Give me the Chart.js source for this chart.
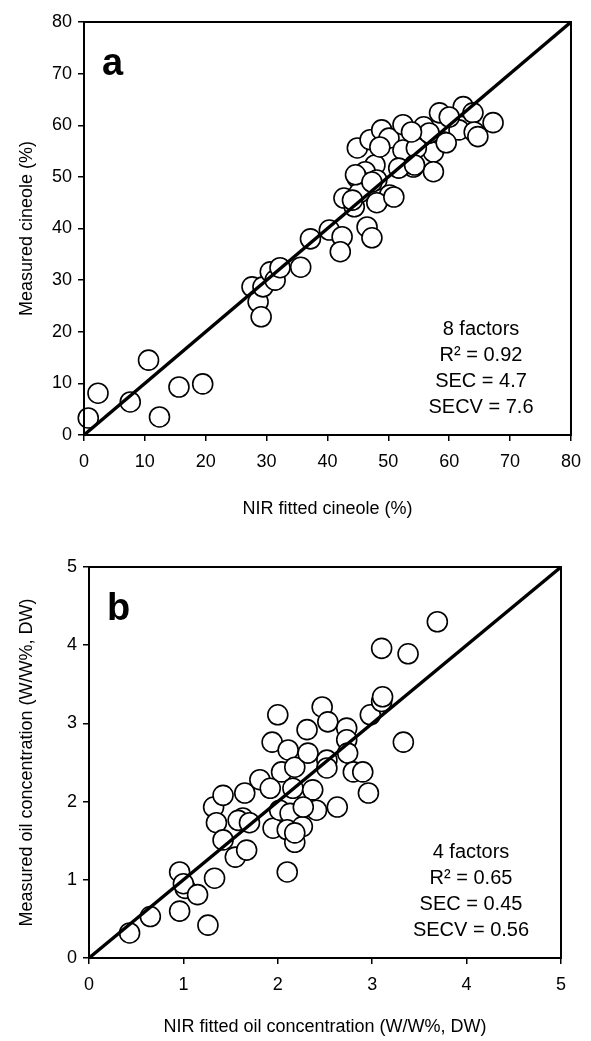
<!DOCTYPE html>
<html>
<head>
<meta charset="utf-8">
<script src="https://cdn.jsdelivr.net/npm/chart.js@4"></script>
<style>
  body { margin: 0; background: #fff; }
  canvas { display: block; position: absolute; left: 0; }
  #chartA { top: 0; }
  #chartB { top: 530px; }
</style>
</head>
<body>
<canvas id="chartA" width="591" height="530"></canvas>
<canvas id="chartB" width="591" height="511"></canvas>
<script>
// panel a: cineole (%)
const cineoleFitted = [0.7, 2.3, 7.6, 10.6, 12.4, 15.6, 19.5, 27.6, 28.6, 29.1, 29.4, 30.6, 31.4, 32.2, 35.6,
    37.2, 40.3, 42.4, 42.1, 42.7, 44.4, 46.5, 47.3, 44.9, 47.0, 48.9, 50.1, 52.4, 52.4, 55.8, 58.4, 59.0,
    57.4, 57.4, 54.1, 51.7, 47.8, 46.2, 44.9, 48.1, 50.2, 48.1, 45.2, 54.6, 56.7, 62.3, 63.9, 61.6, 64.1,
    64.7, 67.2, 59.5, 60.0, 44.1, 50.9, 44.6, 47.3, 54.3, 48.6, 53.8];
const cineoleMeasured = [3.3, 8.1, 6.4, 14.5, 3.5, 9.3, 9.9, 28.7, 25.8, 22.9, 28.7, 31.6, 30.0, 32.4, 32.5,
    38.0, 39.7, 38.4, 35.5, 45.9, 44.2, 40.3, 38.2, 55.6, 57.2, 59.1, 57.5, 60.1, 55.2, 59.7, 62.4, 56.8,
    54.8, 51.0, 51.9, 51.7, 52.3, 51.0, 49.8, 49.4, 46.5, 45.0, 46.9, 55.6, 58.5, 63.6, 62.4, 59.1, 58.7,
    57.8, 60.5, 56.6, 61.6, 45.5, 46.1, 50.4, 49.0, 52.3, 55.8, 58.7];
const cineoleLine = [0, 80];
const cineoleTicks = [0, 10, 20, 30, 40, 50, 60, 70, 80];
const statsA = ['8 factors', 'R² = 0.92', 'SEC = 4.7', 'SECV = 7.6'];

// panel b: oil concentration (W/W%, DW)
const oilFitted = [0.43, 0.65, 0.96, 1.02, 1.0, 1.15, 0.96, 1.26, 1.33, 1.32, 1.35, 1.42, 1.42, 1.55, 1.65,
    1.63, 1.58, 1.67, 1.70, 1.81, 1.92, 1.94, 2.0, 1.95, 2.04, 2.02, 2.11, 2.18, 2.16, 2.13, 2.10, 2.18,
    2.10, 2.26, 2.31, 2.32, 2.37, 2.41, 2.47, 2.53, 2.52, 2.52, 2.63, 2.73, 2.73, 2.74, 2.80, 2.90, 2.96,
    2.98, 3.10, 3.33, 3.10, 3.38, 3.11, 3.69, 2.18, 2.27];
const oilMeasured = [0.32, 0.53, 1.10, 0.89, 0.95, 0.81, 0.60, 0.42, 1.02, 1.93, 1.73, 2.08, 1.51, 1.29, 2.11,
    1.79, 1.76, 1.38, 1.73, 2.28, 2.17, 2.76, 3.11, 1.66, 2.38, 1.89, 2.66, 2.44, 2.17, 1.85, 1.64, 1.48,
    1.10, 1.68, 2.92, 2.62, 2.15, 1.89, 3.21, 3.02, 2.53, 2.43, 1.93, 2.94, 2.79, 2.62, 2.38, 2.38, 2.11,
    3.11, 3.28, 2.76, 3.96, 3.89, 3.34, 4.30, 1.60, 1.93];
const oilLine = [0, 5];
const oilTicks = [0, 1, 2, 3, 4, 5];
const statsB = ['4 factors', 'R² = 0.65', 'SEC = 0.45', 'SECV = 0.56'];

const FONT = "'Liberation Sans', Arial, sans-serif";

function toPoints(xs, ys) {
    return xs.map((x, i) => ({ x: x, y: ys[i] }));
}

// frame, panel letter and statistics text
const decorPlugin = {
    id: 'decor',
    afterDatasetsDraw(chart, args, opts) {
        const { ctx, chartArea: a } = chart;
        ctx.save();
        ctx.strokeStyle = '#000';
        ctx.lineWidth = 2;
        ctx.strokeRect(a.left, a.top, a.right - a.left, a.bottom - a.top);

        ctx.fillStyle = '#000';
        ctx.font = 'bold 38px ' + FONT;
        ctx.textAlign = 'left';
        ctx.textBaseline = 'alphabetic';
        ctx.fillText(opts.letter, a.left + 18, a.top + 53);

        ctx.font = '20px ' + FONT;
        ctx.textAlign = 'center';
        ctx.textBaseline = 'middle';
        opts.stats.forEach((s, i) => {
            ctx.fillText(s, a.right - 90, a.bottom - 106 + i * 26);
        });
        ctx.restore();
    }
};

function makeChart(id, xs, ys, line, ticks, xTitle, yTitle, letter, stats, frame) {
    const max = ticks[ticks.length - 1];
    return new Chart(document.getElementById(id), {
        type: 'scatter',
        data: {
            datasets: [{
                type: 'line',
                data: toPoints(line, line),
                borderColor: '#000',
                borderWidth: 3.5,
                pointRadius: 0,
                clip: false,
                order: 0
            }, {
                data: toPoints(xs, ys),
                pointRadius: 10,
                pointBackgroundColor: '#fff',
                pointBorderColor: '#000',
                pointBorderWidth: 1.6,
                clip: false,
                order: 1
            }]
        },
        options: {
            responsive: false,
            animation: false,
            devicePixelRatio: 1,
            layout: { padding: { left: 0, top: frame.top, right: frame.right, bottom: 0 } },
            plugins: {
                legend: { display: false },
                tooltip: { enabled: false },
                decor: { letter: letter, stats: stats }
            },
            scales: {
                x: {
                    type: 'linear',
                    min: 0,
                    max: max,
                    afterFit: s => { s.height = frame.xHeight; },
                    afterBuildTicks: s => { s.ticks = ticks.map(v => ({ value: v })); },
                    grid: { display: true, drawOnChartArea: false, drawTicks: true, tickLength: 6, color: '#000', lineWidth: 1.5 },
                    border: { color: '#000', width: 2 },
                    ticks: { color: '#000', padding: 10, font: { family: FONT, size: 18 } },
                    title: { display: true, text: xTitle, color: '#000', padding: { top: 0, bottom: frame.xTitlePad }, font: { family: FONT, size: 18 } }
                },
                y: {
                    type: 'linear',
                    min: 0,
                    max: max,
                    afterFit: s => { s.width = frame.yWidth; },
                    afterBuildTicks: s => { s.ticks = ticks.map(v => ({ value: v })); },
                    grid: { display: true, drawOnChartArea: false, drawTicks: true, tickLength: 6, color: '#000', lineWidth: 1.5 },
                    border: { color: '#000', width: 2 },
                    ticks: { color: '#000', padding: 6, font: { family: FONT, size: 18 } },
                    title: { display: true, text: yTitle, color: '#000', padding: { top: 16, bottom: 0 }, font: { family: FONT, size: 18 } }
                }
            }
        },
        plugins: [decorPlugin]
    });
}

makeChart('chartA', cineoleFitted, cineoleMeasured, cineoleLine, cineoleTicks,
    'NIR fitted cineole (%)', 'Measured cineole (%)', 'a', statsA,
    { top: 22, right: 14, xHeight: 95, yWidth: 84, xTitlePad: 10 });

makeChart('chartB', oilFitted, oilMeasured, oilLine, oilTicks,
    'NIR fitted oil concentration (W/W%, DW)', 'Measured oil concentration (W/W%, DW)', 'b', statsB,
    { top: 37, right: 30, xHeight: 83, yWidth: 89, xTitlePad: 3 });
</script>
</body>
</html>
